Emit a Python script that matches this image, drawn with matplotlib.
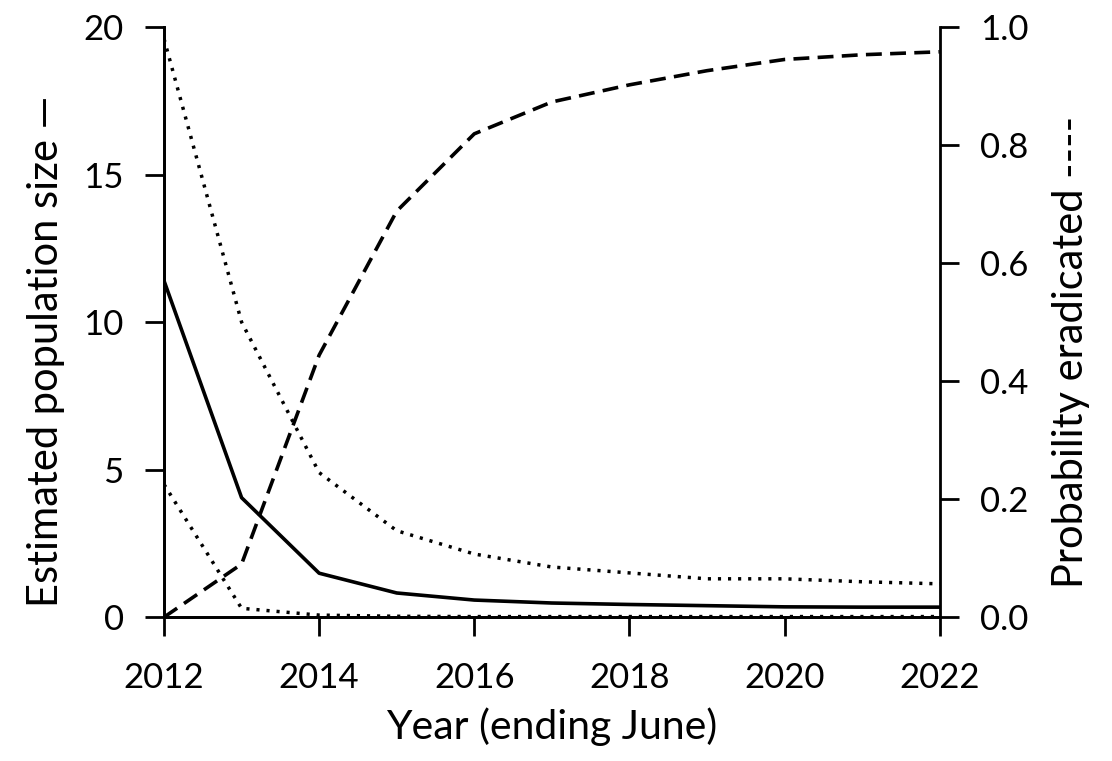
import matplotlib

matplotlib.use("Agg")
import matplotlib.pyplot as plt

YEARS = [2012, 2013, 2014, 2015, 2016, 2017, 2018, 2019, 2020, 2021, 2022]
POP_MEAN = [11.4, 4.05, 1.49, 0.82, 0.58, 0.48, 0.43, 0.39, 0.35, 0.34, 0.34]
POP_UPPER = [19.6, 10.0, 4.9, 2.93, 2.14, 1.7, 1.5, 1.3, 1.3, 1.2, 1.13]
POP_LOWER = [4.5, 0.3, 0.07, 0.03, 0.02, 0.02, 0.02, 0.02, 0.02, 0.02, 0.02]
P_ERAD = [0.0, 0.09, 0.444, 0.688, 0.819, 0.873, 0.902, 0.926, 0.945, 0.953, 0.958]
RIGHT_TICKS = [0.0, 0.2, 0.4, 0.6, 0.8, 1.0]

plt.rcParams.update(
    {
        "font.family": ["Lato", "DejaVu Sans"],
        "axes.linewidth": 2,
        "xtick.major.width": 2,
        "ytick.major.width": 2,
        "xtick.major.size": 14,
        "ytick.major.size": 14,
        "xtick.labelsize": 25,
        "ytick.labelsize": 25,
    }
)

fig = plt.figure(figsize=(11.12, 7.61), dpi=100)
ax = fig.add_axes([0.1475, 0.189, 0.6975, 0.7755])
ax2 = ax.twinx()

ax.plot(YEARS, POP_MEAN, color="black", linewidth=2.6)
ax.plot(YEARS, POP_UPPER, color="black", linewidth=2.5, linestyle=(0, (0.9, 2.0)))
ax.plot(YEARS, POP_LOWER, color="black", linewidth=2.5, linestyle=(0, (0.9, 2.0)))
ax2.plot(YEARS, P_ERAD, color="black", linewidth=2.6, linestyle=(0, (4.4, 2.3)))

ax.set_xlim(2012, 2022)
ax.set_ylim(0, 20)
ax2.set_ylim(0, 1.0)
ax.set_xticks(range(2012, 2023, 2))
ax.set_yticks(range(0, 21, 5))
ax2.set_yticks(RIGHT_TICKS)
ax2.set_yticklabels([f"{v:.1f}" for v in RIGHT_TICKS])

for a in (ax, ax2):
    a.spines["top"].set_visible(False)
    a.tick_params(axis="y", direction="out", pad=15)
    a.tick_params(axis="x", direction="out", pad=18)
ax.spines["right"].set_visible(False)

ax.set_xlabel("Year (ending June)", fontsize=29.5, labelpad=10)
ax.set_ylabel("Estimated population size \u2014", fontsize=30, labelpad=13, y=0.45)
ax2.set_ylabel("Probability eradicated ----", fontsize=30, labelpad=17, y=0.45)

fig.savefig("out.png", dpi=100)
